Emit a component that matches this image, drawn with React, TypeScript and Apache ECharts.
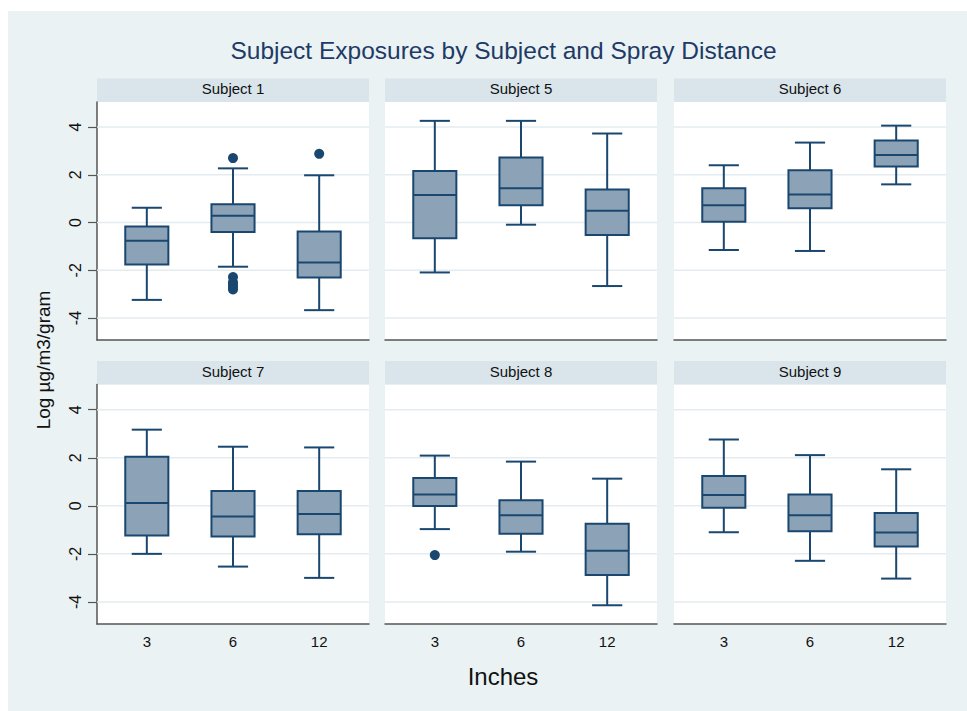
import React, { useEffect, useRef } from "react";
import * as echarts from "echarts";

// ---------- DATA ----------
const subjects = ["Subject 1", "Subject 5", "Subject 6", "Subject 7", "Subject 8", "Subject 9"];
const distances = ["3", "6", "12"];
const yTicks = [-4, -2, 0, 2, 4];

// each box: [lower whisker, Q1, median, Q3, upper whisker] for 3, 6, 12 inches
const subject1Boxes = [
  [-3.24, -1.76, -0.76, -0.17, 0.62],
  [-1.85, -0.4, 0.28, 0.77, 2.27],
  [-3.67, -2.3, -1.67, -0.38, 1.98],
];
const subject5Boxes = [
  [-2.09, -0.66, 1.15, 2.16, 4.26],
  [-0.09, 0.73, 1.44, 2.73, 4.26],
  [-2.66, -0.52, 0.49, 1.38, 3.73],
];
const subject6Boxes = [
  [-1.15, 0.03, 0.73, 1.44, 2.4],
  [-1.19, 0.6, 1.17, 2.19, 3.35],
  [1.6, 2.35, 2.83, 3.44, 4.06],
];
const subject7Boxes = [
  [-2.0, -1.24, 0.12, 2.04, 3.17],
  [-2.53, -1.28, -0.44, 0.62, 2.46],
  [-3.0, -1.18, -0.34, 0.62, 2.43],
];
const subject8Boxes = [
  [-0.97, -0.01, 0.47, 1.16, 2.09],
  [-1.91, -1.16, -0.39, 0.23, 1.84],
  [-4.14, -2.88, -1.87, -0.75, 1.13],
];
const subject9Boxes = [
  [-1.1, -0.08, 0.45, 1.24, 2.76],
  [-2.29, -1.06, -0.39, 0.47, 2.11],
  [-3.03, -1.69, -1.11, -0.3, 1.52],
];

// outliers: [distance index, value]
const subject1Outliers = [
  [1, 2.7], [1, -2.28], [1, -2.5], [1, -2.62], [1, -2.72], [1, -2.8],
  [2, 2.88],
];
const subject5Outliers: number[][] = [];
const subject6Outliers: number[][] = [];
const subject7Outliers: number[][] = [];
const subject8Outliers = [[0, -2.05]];
const subject9Outliers: number[][] = [];

const allBoxes = [subject1Boxes, subject5Boxes, subject6Boxes, subject7Boxes, subject8Boxes, subject9Boxes];
const allOutliers = [subject1Outliers, subject5Outliers, subject6Outliers, subject7Outliers, subject8Outliers, subject9Outliers];

// ---------- STYLE / LAYOUT ----------
const FONT = "'Liberation Sans', Arial, Helvetica, sans-serif";
const BG = "#EAF2F3";
const STRIP = "#D9E5EB";
const NAVY = "#1A476F";
const BOXFILL = "#8CA3B7";
const GRIDLINE = "#E4ECEF";
const AXIS = "#555555";

const colLefts = [89, 377, 666];
const colWidth = 272;
const rowTops = [91, 373.5];
const rowHeights = [238, 239.5];
const stripH = 23.5;

export default function App() {
  const ref = useRef<HTMLDivElement>(null);

  useEffect(() => {
    if (!ref.current) return;
    const chart = echarts.init(ref.current, undefined, { renderer: "svg" });

    const grids: any[] = [];
    const xAxes: any[] = [];
    const yAxes: any[] = [];
    const series: any[] = [];
    const graphics: any[] = [];

    subjects.forEach((name, i) => {
      const row = Math.floor(i / 3);
      const col = i % 3;
      const left = colLefts[col];
      const top = rowTops[row];
      const height = rowHeights[row];
      grids.push({
        left,
        top,
        width: colWidth,
        height,
        show: true,
        backgroundColor: "#ffffff",
        borderWidth: 0,
        containLabel: false,
      });
      xAxes.push({
        type: "value",
        gridIndex: i,
        min: -0.578,
        max: 2.578,
        axisLine: { show: true, onZero: false, lineStyle: { color: AXIS, width: 1.5 } },
        axisTick: { show: false, customValues: [0, 1, 2] },
        splitLine: { show: false },
        axisLabel: {
          show: row === 1,
          customValues: [0, 1, 2],
          formatter: (v: number) => distances[Math.round(v)] ?? "",
          color: "#111",
          fontSize: 15,
          fontFamily: FONT,
          margin: 10,
        },
      });
      yAxes.push({
        type: "value",
        gridIndex: i,
        min: -4.92,
        max: 5.05,
        axisLine: { show: col === 0, onZero: false, lineStyle: { color: AXIS, width: 1.5 } },
        axisTick: {
          show: col === 0,
          customValues: yTicks,
          length: 9,
          lineStyle: { color: AXIS, width: 1.2 },
        },
        splitLine: { show: false },
        axisLabel: {
          show: col === 0,
          customValues: yTicks,
          rotate: 90,
          color: "#111",
          fontSize: 16,
          fontFamily: FONT,
          margin: 14,
        },
      });
      // gridlines (drawn beneath the boxes)
      series.push({
        type: "custom",
        xAxisIndex: i,
        yAxisIndex: i,
        z: 1,
        silent: true,
        data: yTicks.map((t) => [0, t]),
        renderItem: (params: any, api: any) => {
          const p = api.coord([0, api.value(1)]);
          const cs = params.coordSys;
          return {
            type: "line",
            shape: { x1: cs.x, y1: p[1], x2: cs.x + cs.width, y2: p[1] },
            style: { stroke: GRIDLINE, lineWidth: 1.5 },
          };
        },
      });
      // boxes
      series.push({
        type: "custom",
        xAxisIndex: i,
        yAxisIndex: i,
        z: 3,
        data: allBoxes[i].map((b, k) => [k, ...b]),
        renderItem: (params: any, api: any) => {
          const x = api.value(0);
          const lo = api.coord([x, api.value(1)]);
          const q1 = api.coord([x, api.value(2)]);
          const md = api.coord([x, api.value(3)]);
          const q3 = api.coord([x, api.value(4)]);
          const hi = api.coord([x, api.value(5)]);
          const unit = api.size([1, 0])[0];
          const hw = unit * 0.25;
          const hc = unit * 0.175;
          const cx = lo[0];
          const ls = { stroke: NAVY, lineWidth: 2, fill: "none" };
          return {
            type: "group",
            children: [
              { type: "line", shape: { x1: cx, y1: hi[1], x2: cx, y2: q3[1] }, style: ls },
              { type: "line", shape: { x1: cx, y1: lo[1], x2: cx, y2: q1[1] }, style: ls },
              { type: "line", shape: { x1: cx - hc, y1: hi[1], x2: cx + hc, y2: hi[1] }, style: ls },
              { type: "line", shape: { x1: cx - hc, y1: lo[1], x2: cx + hc, y2: lo[1] }, style: ls },
              {
                type: "rect",
                shape: { x: cx - hw, y: q3[1], width: hw * 2, height: q1[1] - q3[1] },
                style: { fill: BOXFILL, stroke: NAVY, lineWidth: 2 },
              },
              { type: "line", shape: { x1: cx - hw, y1: md[1], x2: cx + hw, y2: md[1] }, style: ls },
            ],
          };
        },
      });
      if (allOutliers[i].length) {
        series.push({
          type: "scatter",
          xAxisIndex: i,
          yAxisIndex: i,
          z: 4,
          symbol: "circle",
          symbolSize: 10,
          itemStyle: { color: NAVY, opacity: 1 },
          data: allOutliers[i],
        });
      }
      // strip
      graphics.push({
        type: "rect",
        shape: { x: left, y: top - stripH, width: colWidth, height: stripH },
        style: { fill: STRIP },
        silent: true,
      });
      graphics.push({
        type: "text",
        x: left + colWidth / 2,
        y: top - stripH / 2 - 1.5,
        style: {
          text: name,
          fill: "#111",
          font: `15px ${FONT}`,
          textAlign: "center",
          textVerticalAlign: "middle",
        },
        silent: true,
      });
    });

    graphics.push({
      type: "text",
      x: 495.5,
      y: 39,
      style: {
        text: "Subject Exposures by Subject and Spray Distance",
        fill: "#1E3A66",
        font: `24.5px ${FONT}`,
        textAlign: "center",
        textVerticalAlign: "middle",
      },
    });
    graphics.push({
      type: "text",
      x: 495,
      y: 665,
      style: {
        text: "Inches",
        fill: "#111",
        font: `24px ${FONT}`,
        textAlign: "center",
        textVerticalAlign: "middle",
      },
    });
    graphics.push({
      type: "text",
      x: 35,
      y: 349,
      rotation: Math.PI / 2,
      style: {
        text: "Log µg/m3/gram",
        fill: "#111",
        font: `19px ${FONT}`,
        textAlign: "center",
        textVerticalAlign: "middle",
      },
    });

    chart.setOption({
      animation: false,
      backgroundColor: BG,
      grid: grids,
      xAxis: xAxes,
      yAxis: yAxes,
      series,
      graphic: graphics,
    });

    return () => chart.dispose();
  }, []);

  return (
    <div
      ref={ref}
      style={{ position: "absolute", left: 8, top: 11, width: 959, height: 700 }}
    />
  );
}
